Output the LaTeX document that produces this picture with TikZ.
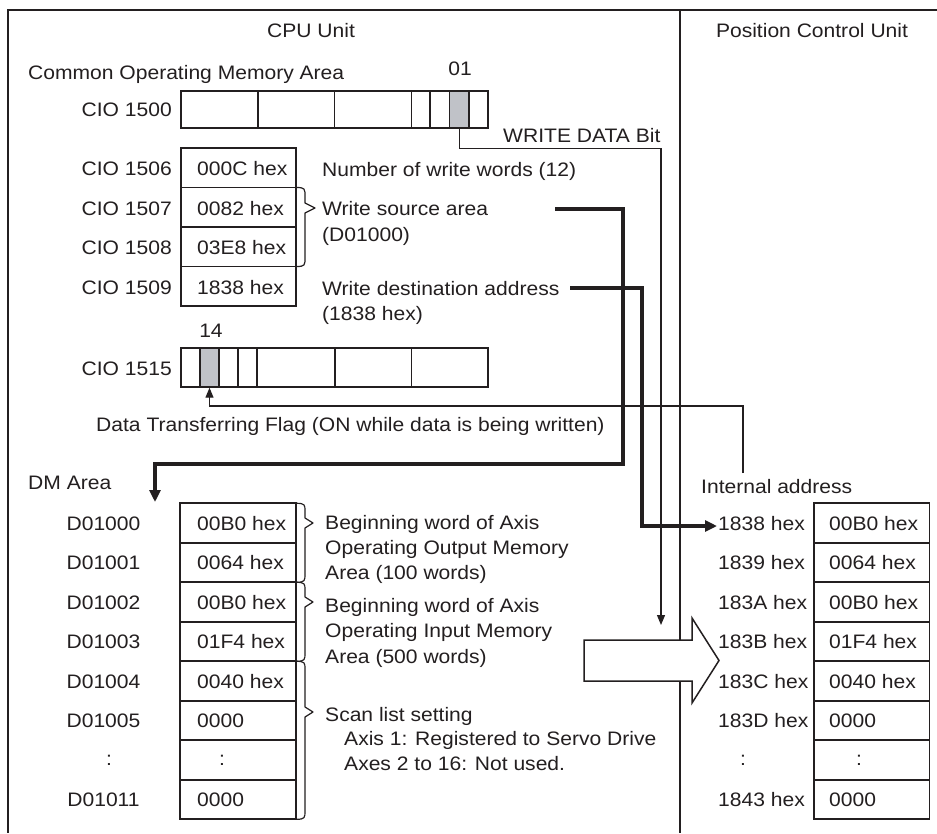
\documentclass[tikz,border=0pt]{standalone}
\usepackage{fontspec}
\setmainfont{Liberation Sans}[FakeStretch=1.08]
\usetikzlibrary{arrows.meta}
\definecolor{ink}{RGB}{35,31,32}
\definecolor{bitgrey}{RGB}{192,194,200}
\begin{document}
\begin{tikzpicture}[x=1pt,y=-1pt,
  every node/.style={font=\fontsize{19.5}{23}\selectfont, text=ink, inner sep=0pt},
  lbl/.style={anchor=base},
  lblw/.style={anchor=base west},
  lble/.style={anchor=base east},
  frameline/.style={draw=ink, line width=2pt},
  cellbox/.style={draw=ink, line width=1.6pt, minimum height=39.5pt, minimum width=115.5pt},
  regcell/.style={draw=ink, line width=1.4pt},
  greycell/.style={draw=ink, fill=bitgrey, line width=1.4pt},
  thinconn/.style={draw=ink, line width=1.2pt, -{Triangle[length=10pt,width=8pt]}},
  thickconn/.style={draw=ink, line width=3.4pt, -{Triangle[length=12pt,width=11pt]}},
  bracestyle/.style={draw=ink, line width=1.2pt, line join=round},
  bigarrow/.style={draw=ink, fill=white, line width=1.5pt, line join=miter}
]
\useasboundingbox (0,0) rectangle (937,833);
\fill[white] (0,0) rectangle (937,833);

% frame
\draw[frameline] (937,10) -- (8,10) -- (8,833);
\draw[frameline] (680,10) -- (680,833);

% titles
\node[lbl] (cpu) at (311,37) {CPU Unit};
\node[lbl] (pcu) at (812,37) {Position Control Unit};
\node[lblw] (coma) at (28,79) {Common Operating Memory Area};

% CIO 1500 register
\node[lbl] (b01) at (460,75) {01};
\node[lble] (l1500) at (172,116) {CIO 1500};
\draw[regcell] (181,91) rectangle (488,128);
\foreach \xx in {258,334.5,411.5,430} \draw[regcell] (\xx,91) -- (\xx,128);
\node[greycell, minimum width=19.5pt, minimum height=37pt] (bit01) at (459.25,109.5) {};

% CIO 1506-1509 words
\node[cellbox] (w1506) at (238.5,167.75) {};
\node[cellbox] (w1507) at (238.5,207.25) {};
\node[cellbox] (w1508) at (238.5,246.75) {};
\node[cellbox] (w1509) at (238.5,286.25) {};
\node[lble] (l1506) at (172,175.5) {CIO 1506};
\node[lble] (l1507) at (172,215) {CIO 1507};
\node[lble] (l1508) at (172,254.5) {CIO 1508};
\node[lble] (l1509) at (172,294) {CIO 1509};
\node[lblw] (v1506) at (197,175.5) {000C hex};
\node[lblw] (v1507) at (197,215) {0082 hex};
\node[lblw] (v1508) at (197,254.5) {03E8 hex};
\node[lblw] (v1509) at (197,294) {1838 hex};

\draw[bracestyle] (296.5,187.5) .. controls (305,187.5) and (305,189) .. (305,196) -- (305,203) -- (315,208) -- (305,213) -- (305,258) .. controls (305,265) and (305,266.5) .. (296.5,266.5);

\node[lblw] (t1) at (322,176) {Number of write words (12)};
\node[lblw] (t2) at (322,215) {Write source area};
\node[lblw] (t3) at (322,241) {(D01000)};
\node[lblw] (t4) at (322,295) {Write destination address};
\node[lblw] (t5) at (322,320) {(1838 hex)};
\node[lblw] (wdb) at (503,142) {WRITE DATA Bit};

% CIO 1515 register
\node[lbl] (b14) at (211,337) {14};
\node[lble] (l1515) at (172,375) {CIO 1515};
\draw[regcell] (181,348) rectangle (488,387);
\foreach \xx in {238,257,335,411.5} \draw[regcell] (\xx,348) -- (\xx,387);
\node[greycell, minimum width=19pt, minimum height=39pt] (bit14) at (209.5,367.5) {};

\node[lblw] (dtf) at (96,431) {Data Transferring Flag (ON while data is being written)};

% DM area
\node[lblw] (dma) at (28,489) {DM Area};
\foreach \i/\lab/\val in {0/D01000/00B0 hex,1/D01001/0064 hex,2/D01002/00B0 hex,3/D01003/01F4 hex,4/D01004/0040 hex,5/D01005/0000,7/D01011/0000}{
  \node[cellbox] (dm\i) at (238,523+39.5*\i) {};
  \node[lbl] (dml\i) at (103.5,530+39.5*\i) {\lab};
  \node[lblw] (dmv\i) at (197,530+39.5*\i) {\val};
}
\node[cellbox] (dm6) at (238,760) {};
\node[lbl] (dml6) at (109,765) {:};
\node[lbl] (dmv6) at (222,765) {:};

% DM braces
\draw[bracestyle] (296.5,503.3) .. controls (305,503.3) and (305,505) .. (305,511) -- (305,518) -- (313,523) -- (305,528) -- (305,574) .. controls (305,580.5) and (305,582.3) .. (296.5,582.3);
\draw[bracestyle] (296.5,582.3) .. controls (305,582.3) and (305,584) .. (305,590) -- (305,597) -- (313,602) -- (305,607) -- (305,653) .. controls (305,659.5) and (305,661.3) .. (296.5,661.3);
\draw[bracestyle] (296.5,661.3) .. controls (305,661.3) and (305,663) .. (305,669) -- (305,707) -- (313,712) -- (305,717) -- (305,811) .. controls (305,817.5) and (305,819.3) .. (296.5,819.3);

\node[lblw] (a1) at (325,529) {Beginning word of Axis};
\node[lblw] (a2) at (325,554) {Operating Output Memory};
\node[lblw] (a3) at (325,579) {Area (100 words)};
\node[lblw] (a4) at (325,612) {Beginning word of Axis};
\node[lblw] (a5) at (325,637) {Operating Input Memory};
\node[lblw] (a6) at (325,663) {Area (500 words)};
\node[lblw] (a7) at (325,721) {Scan list setting};
\node[lblw] (a8) at (344,745) {Axis 1: Registered to Servo Drive};
\node[lblw] (a9) at (344,770) {Axes 2 to 16: Not used.};

% Position control unit memory
\node[lblw] (ia) at (701,493) {Internal address};
\foreach \i/\lab/\val in {0/1838 hex/00B0 hex,1/1839 hex/0064 hex,2/183A hex/00B0 hex,3/183B hex/01F4 hex,4/183C hex/0040 hex,5/183D hex/0000,7/1843 hex/0000}{
  \node[cellbox] (pc\i) at (871.75,523+39.5*\i) {};
  \node[lblw] (pcl\i) at (718,530+39.5*\i) {\lab};
  \node[lblw] (pcv\i) at (829,530+39.5*\i) {\val};
}
\node[cellbox] (pc6) at (871.75,760) {};
\node[lbl] (pcl6) at (743,765) {:};
\node[lbl] (pcv6) at (859,765) {:};

% big hollow arrow
\draw[bigarrow] (584,640) -- (692,640) -- (692,618) -- (719,660.5) -- (692,703) -- (692,681) -- (584,681) -- cycle;

% connectors
\coordinate (wdEnd) at (661,625);
\draw[thinconn] (bit01.south) -- ++(0,20) -| (wdEnd);

\coordinate (srcStart) at (555,209);
\coordinate (srcTurn) at (623,464);
\coordinate (dmTip) at (155,502);
\draw[thickconn] (srcStart) -| (srcTurn) -| (dmTip);

\coordinate (dstStart) at (570,288);
\coordinate (dstTurn) at (642,526);
\coordinate (dstEnd) at (717,526);
\draw[thickconn] (dstStart) -| (dstTurn) -- (dstEnd);

\coordinate (iaStart) at (743,473);
\coordinate (iaTurn) at (743,406);
\draw[thinconn] (iaStart) -- (iaTurn) -| (bit14.south);
\end{tikzpicture}
\end{document}
